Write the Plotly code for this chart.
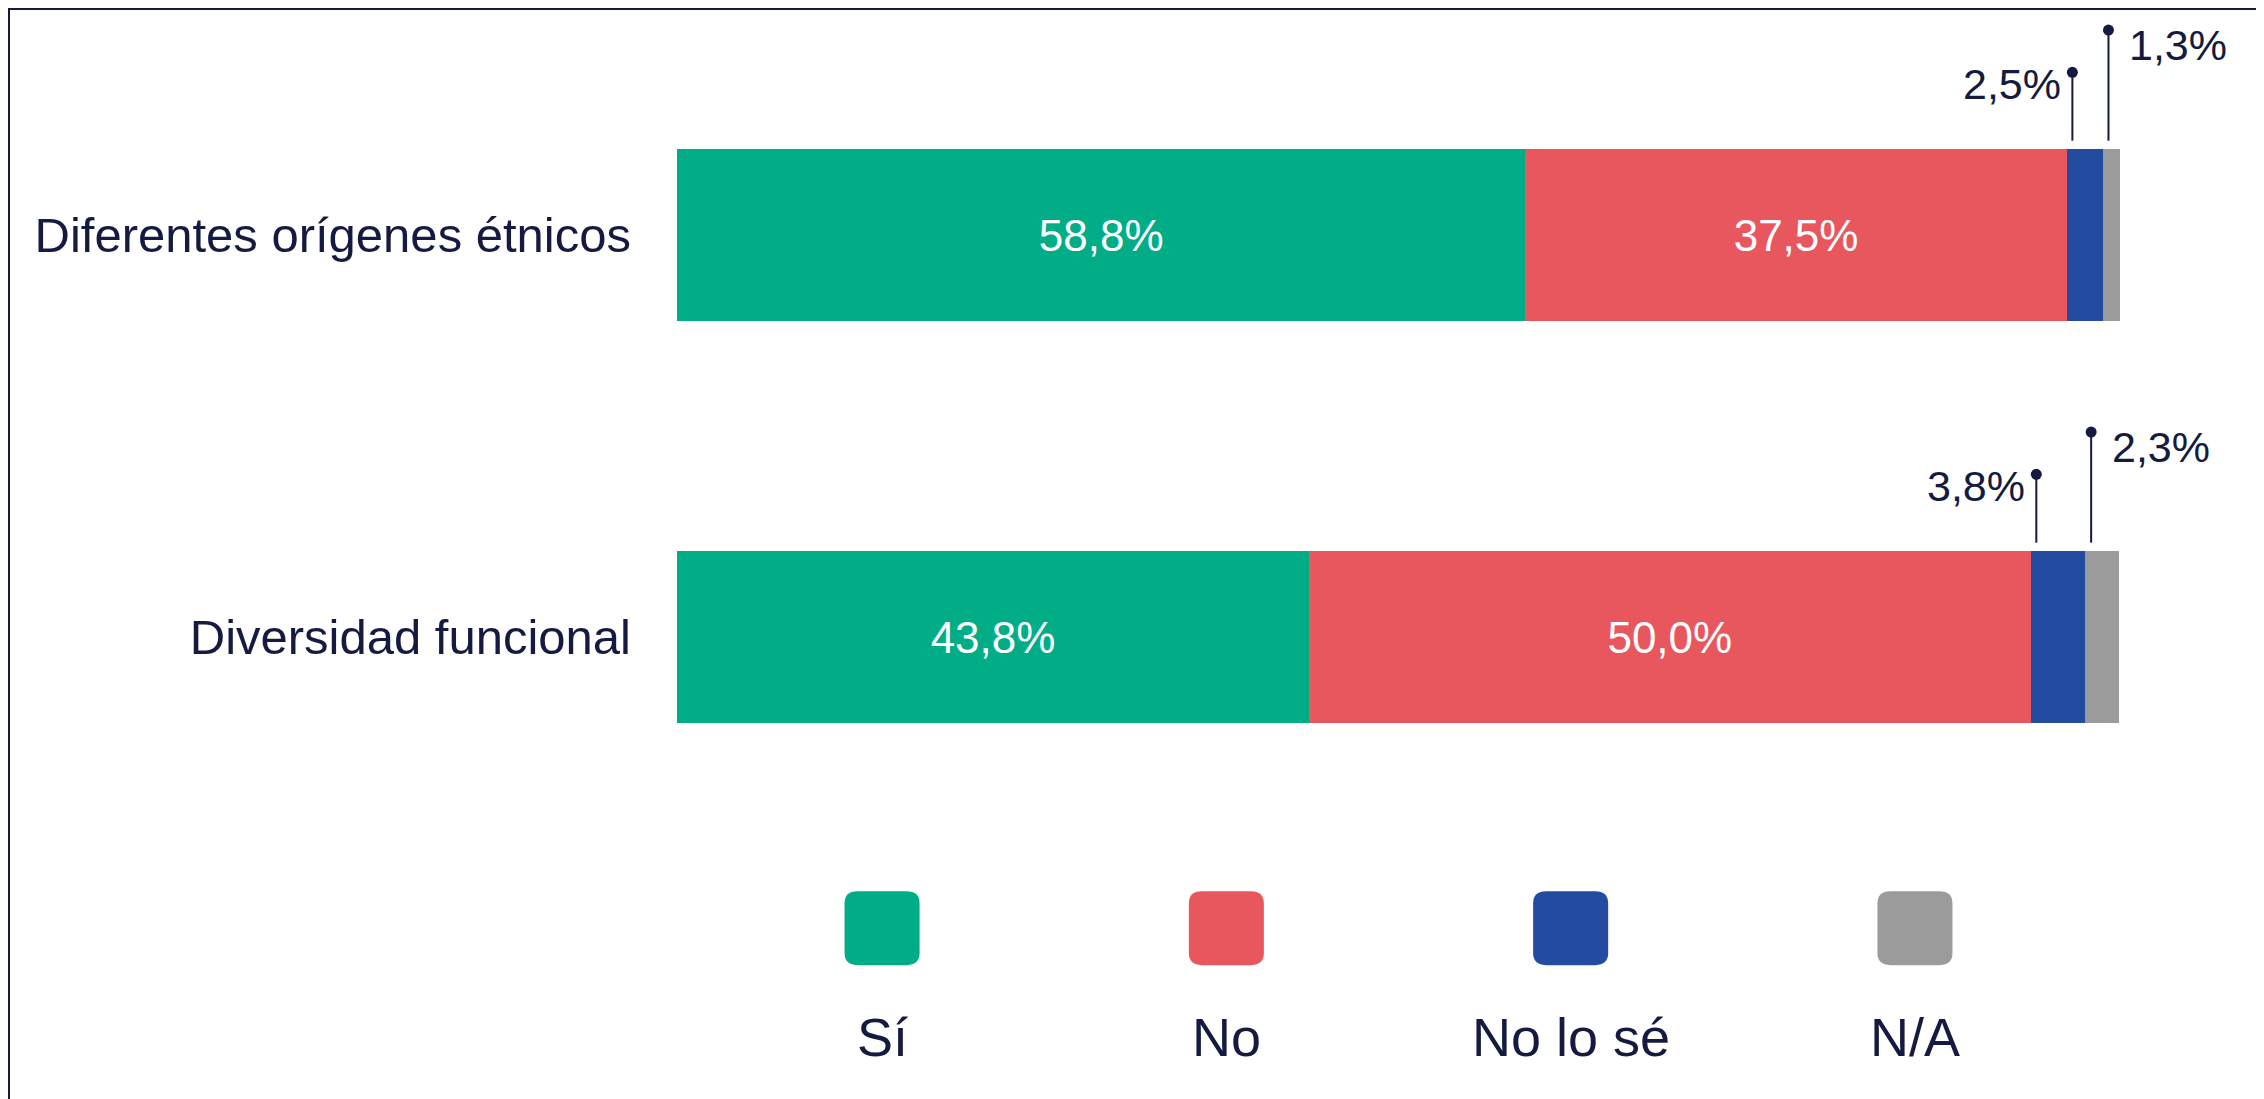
import plotly.graph_objects as go

# datos
categories = ["Diferentes orígenes étnicos", "Diversidad funcional"]
series = ["Sí", "No", "No lo sé", "N/A"]
si = [58.8, 43.8]
no = [37.5, 50.0]
no_lo_se = [2.5, 3.8]
na = [1.3, 2.3]

colors = ["#00ad86", "#e9575e", "#234ba0", "#9b9b9b"]
navy = "#141a40"
font = "Liberation Sans, Arial, sans-serif"


def pct(v):
    return f"{v:.1f}%".replace(".", ",")


values = [si, no, no_lo_se, na]
ypos = list(range(len(categories)))

fig = go.Figure()
for name, vals, col in zip(series, values, colors):
    big = name in ("Sí", "No")
    fig.add_trace(go.Bar(
        y=ypos, x=vals, orientation="h", name=name,
        marker=dict(color=col, line=dict(width=0)),
        width=0.428,
        text=[pct(v) for v in vals] if big else None,
        textposition="inside" if big else "none",
        insidetextanchor="middle",
        textfont=dict(color="white", size=44, family=font),
        hoverinfo="skip", showlegend=False,
    ))

shapes = []
annotations = []
dots_x, dots_y = [], []
# etiquetas con línea para los valores pequeños
for i in ypos:
    start_nose = si[i] + no[i]
    start_na = start_nose + no_lo_se[i]
    for x0, val, top, side, shift, yshift in [
        (start_nose, no_lo_se[i], 0.405, "right", -9, -12),
        (start_na, na[i], 0.51, "left", 19, -15),
    ]:
        lx = x0 + 0.4
        shapes.append(dict(type="line", xref="x", yref="y", x0=lx, x1=lx,
                           y0=i - 0.235, y1=i - top,
                           line=dict(color=navy, width=2)))
        dots_x.append(lx)
        dots_y.append(i - top)
        annotations.append(dict(x=lx, y=i - top, xref="x", yref="y",
                                text=pct(val), showarrow=False,
                                xanchor=side, yanchor="middle",
                                xshift=shift, yshift=yshift,
                                font=dict(size=43, color=navy, family=font)))

fig.add_trace(go.Scatter(x=dots_x, y=dots_y, mode="markers",
                         marker=dict(size=11, color=navy),
                         hoverinfo="skip", showlegend=False))

# leyenda propia: cuadrado redondeado con texto debajo
hw, hh, r, ry = 2.6, 0.092, 0.9, 0.03
for k, (name, col) in enumerate(zip(series, colors)):
    cx = 50 + (k - 1.5) * 23.86
    cy = 1.724
    x0, x1, y0, y1 = cx - hw, cx + hw, cy - hh, cy + hh
    path = (f"M{x0 + r},{y0} L{x1 - r},{y0} Q{x1},{y0} {x1},{y0 + ry} "
            f"L{x1},{y1 - ry} Q{x1},{y1} {x1 - r},{y1} "
            f"L{x0 + r},{y1} Q{x0},{y1} {x0},{y1 - ry} "
            f"L{x0},{y0 + ry} Q{x0},{y0} {x0 + r},{y0} Z")
    shapes.append(dict(type="path", xref="x", yref="y", path=path,
                       fillcolor=col, line=dict(width=0)))
    annotations.append(dict(x=cx, y=1.995, xref="x", yref="y", text=name,
                            showarrow=False, xanchor="center", yanchor="middle",
                            font=dict(size=54, color=navy, family=font)))

# marco de la captura
shapes.insert(0, dict(type="rect", xref="paper", yref="paper",
                      x0=-668 / 1443, x1=1.2, y0=-0.1, y1=1 - 1 / 1091,
                      fillcolor="white", line=dict(color=navy, width=2),
                      layer="below"))

fig.update_layout(
    width=2256, height=1091,
    margin=dict(l=669, r=144, t=0, b=0),
    barmode="stack",
    paper_bgcolor="#eeeef9",
    plot_bgcolor="rgba(0,0,0,0)",
    shapes=shapes, annotations=annotations,
    showlegend=False,
    xaxis=dict(range=[0, 100], visible=False, fixedrange=True),
    yaxis=dict(range=[2.149, -0.565], tickvals=ypos, ticktext=categories,
               showgrid=False, zeroline=False, showline=False, ticks="",
               ticklabelstandoff=45,
               tickfont=dict(size=49, color=navy, family=font)),
)

fig.write_html("out.html")
